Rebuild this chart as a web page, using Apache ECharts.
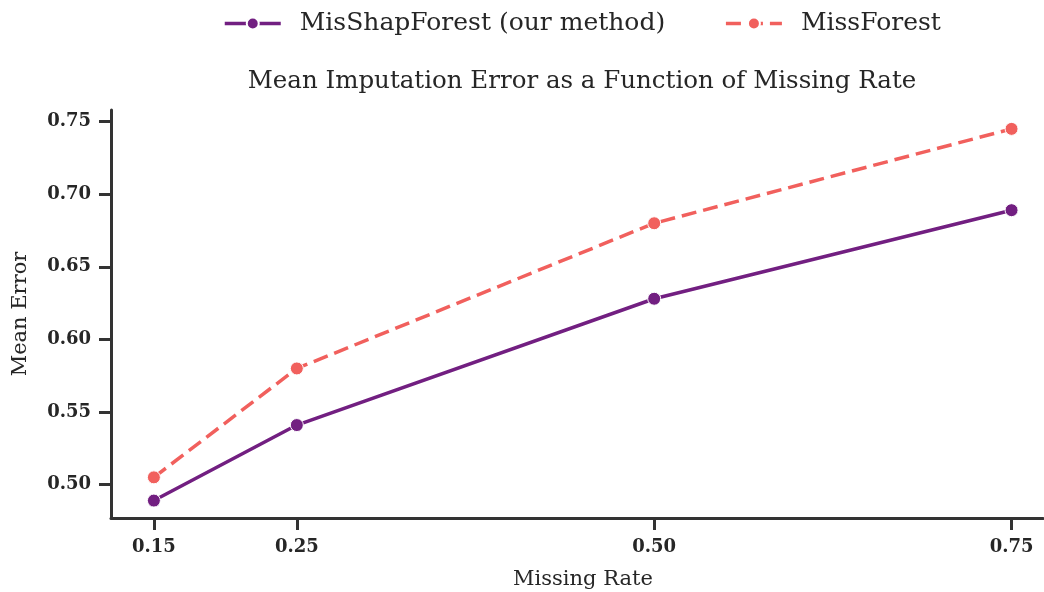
<!DOCTYPE html>
<html>
<head>
<meta charset="utf-8">
<script src="https://cdn.jsdelivr.net/npm/echarts@6/dist/echarts.min.js"></script>
<style>
  html, body { margin: 0; padding: 0; background: #fff; }
  #chart { width: 1044px; height: 592px; }
</style>
</head>
<body>
<div id="chart"></div>
<script>
  // data
  var missingRates = [0.15, 0.25, 0.50, 0.75];
  var misShapForest = [0.489, 0.541, 0.628, 0.689];
  var missForest = [0.505, 0.580, 0.680, 0.745];
  var xTicks = [0.15, 0.25, 0.50, 0.75];
  var yTicks = [0.50, 0.55, 0.60, 0.65, 0.70, 0.75];

  function pairs(xs, ys) {
    return xs.map(function (x, i) { return [x, ys[i]]; });
  }

  var serif = 'DejaVu Serif';
  var axisColor = '#333333';
  var textColor = '#262626';

  var chart = echarts.init(document.getElementById('chart'));
  var option = {
    animation: false,
    backgroundColor: '#ffffff',
    title: {
      text: 'Mean Imputation Error as a Function of Missing Rate',
      left: 577,
      textAlign: 'center',
      top: 64,
      textStyle: { fontFamily: serif, fontWeight: 'normal', fontSize: 24.5, color: textColor }
    },
    legend: {
      top: 6,
      left: 218,
      itemWidth: 56,
      itemHeight: 15,
      itemGap: 59,
      lineStyle: { width: 3.5 },
      textStyle: { fontFamily: serif, fontSize: 25, color: textColor, padding: [0, 0, 0, 14] },
      data: ['MisShapForest (our method)', 'MissForest']
    },
    grid: { left: 111, right: 1, top: 110, bottom: 74, outerBoundsMode: 'none' },
    xAxis: {
      type: 'value',
      min: 0.12,
      max: 0.772,
      name: 'Missing Rate',
      nameLocation: 'middle',
      nameGap: 51,
      nameTextStyle: { fontFamily: serif, fontSize: 21, color: textColor, padding: [0, 0, 0, 12] },
      splitLine: { show: false },
      axisLine: { show: true, lineStyle: { color: axisColor, width: 3 } },
      axisTick: { show: true, length: 12, customValues: xTicks, lineStyle: { color: axisColor, width: 3 } },
      axisLabel: {
        customValues: xTicks,
        margin: 20,
        fontFamily: serif, fontWeight: 'bold', fontSize: 18, color: textColor,
        formatter: function (v) { return v.toFixed(2); }
      }
    },
    yAxis: {
      type: 'value',
      min: 0.477,
      max: 0.758,
      name: 'Mean Error',
      nameLocation: 'middle',
      nameGap: 80,
      nameTextStyle: { fontFamily: serif, fontSize: 21, color: textColor },
      splitLine: { show: false },
      axisLine: { show: true, lineStyle: { color: axisColor, width: 3 } },
      axisTick: { show: true, length: 12, customValues: yTicks, lineStyle: { color: axisColor, width: 3 } },
      axisLabel: {
        customValues: yTicks,
        margin: 20,
        fontFamily: serif, fontWeight: 'bold', fontSize: 18, color: textColor,
        formatter: function (v) { return v.toFixed(2); }
      }
    },
    series: [
      {
        name: 'MisShapForest (our method)',
        type: 'line',
        data: pairs(missingRates, misShapForest),
        symbol: 'circle',
        symbolSize: 13,
        color: '#721f81',
        lineStyle: { width: 3.5, color: '#721f81' },
        itemStyle: { color: '#721f81', borderColor: '#ffffff', borderWidth: 1 }
      },
      {
        name: 'MissForest',
        type: 'line',
        data: pairs(missingRates, missForest),
        symbol: 'circle',
        symbolSize: 13,
        color: '#f1605d',
        lineStyle: { width: 3.5, color: '#f1605d', type: [15, 7] },
        itemStyle: { color: '#f1605d', borderColor: '#ffffff', borderWidth: 1 }
      }
    ]
  };
  chart.setOption(option);
</script>
</body>
</html>
